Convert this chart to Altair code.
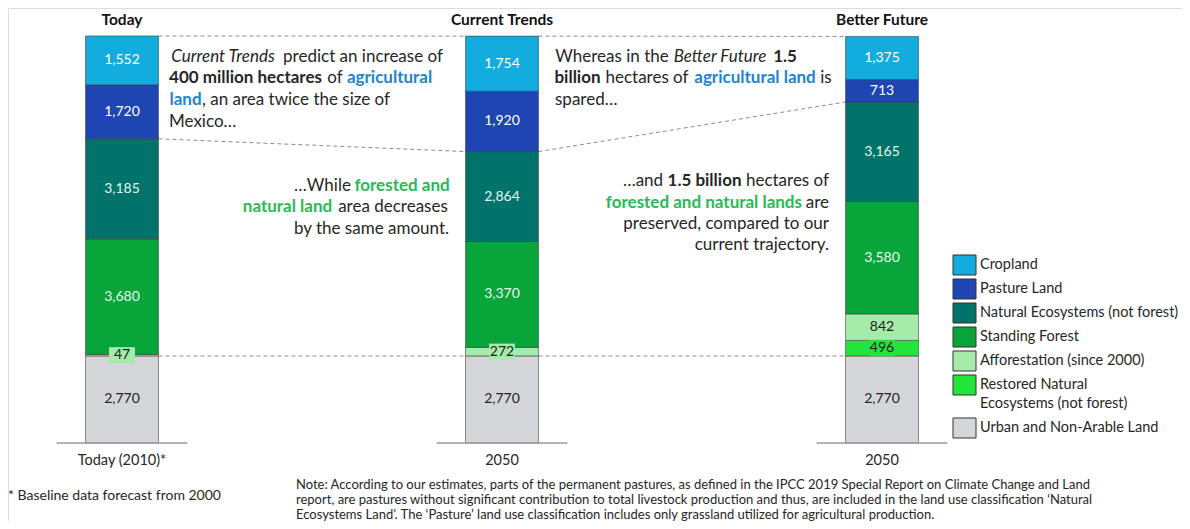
import altair as alt
import pandas as pd

# ---------------- data ----------------
scenarios = ["Today", "Current Trends", "Better Future"]
axis_labels = ["Today (2010)*", "2050", "2050"]
categories = [
    "Cropland",
    "Pasture Land",
    "Natural Ecosystems (not forest)",
    "Standing Forest",
    "Afforestation (since 2000)",
    "Restored Natural Ecosystems (not forest)",
    "Urban and Non-Arable Land",
]
legend_lines = [
    ["Cropland"],
    ["Pasture Land"],
    ["Natural Ecosystems (not forest)"],
    ["Standing Forest"],
    ["Afforestation (since 2000)"],
    ["Restored Natural", "Ecosystems (not forest)"],
    ["Urban and Non-Arable Land"],
]
cropland = [1552, 1754, 1375]
pasture = [1720, 1920, 713]
natural = [3185, 2864, 3165]
forest = [3680, 3370, 3580]
afforestation = [47, 272, 842]
restored = [0, 0, 496]
urban = [2770, 2770, 2770]

# ---------------- styles ----------------
colors = ["#12ACDF", "#1F45B3", "#02736A", "#07A53A", "#A6EBAA", "#22E53C", "#D5D6D9"]
label_colors = ["white", "white", "#E8F4F2", "#E8F8EC", "#222222", "#222222", "#222222"]
FONT = "Lato"
TXT = "#262626"
BLUE = "#1B84D2"
GREEN = "#27BA55"
W, H = 1174, 513
hw = 0.096      # half bar width (x units)
hb = 0.172      # half baseline width (x units)

series = [cropland, pasture, natural, forest, afforestation, restored, urban]
stack_order = [6, 5, 4, 3, 2, 1, 0]  # bottom -> top

rows = []
for i, s in enumerate(scenarios):
    base = 0
    for ci in stack_order:
        v = series[ci][i]
        if v <= 0:
            continue
        rows.append(dict(scenario=s, pos=i, category=categories[ci], value=v,
                         y0=base, y1=base + v, mid=base + v / 2,
                         x0=i - hw, x1=i + hw, tcolor=label_colors[ci],
                         fill=colors[ci]))
        base += v
bars = pd.DataFrame(rows)
boxes = bars[bars["value"] < 600]

totals = [sum(series[c][i] for c in range(7)) for i in range(3)]
agri = [totals[i] - cropland[i] - pasture[i] for i in range(3)]
bounds = [totals, agri, urban]
conn = []
for b in bounds:
    for i in range(2):
        conn.append(dict(x=i + hw, y=b[i], x2=i + 1 - hw, y2=b[i + 1]))
conn = pd.DataFrame(conn)

heads = pd.DataFrame(dict(pos=[0, 1, 2], scenario=scenarios, axlab=axis_labels,
                          xa=[p - hb for p in range(3)], xb=[p + hb for p in range(3)],
                          zero=[0, 0, 0]))

xs = alt.Scale(domain=[-0.3, -0.3 + W / 380.0], nice=False, zero=False)
ys = alt.Scale(domain=[-2483, 13845], nice=False, zero=False)


def X(f):
    return alt.X(f, type="quantitative", scale=xs, axis=None)


def Y(f):
    return alt.Y(f, type="quantitative", scale=ys, axis=None)


connectors = alt.Chart(conn).mark_rule(color="#8a8a8a", strokeDash=[4, 3], strokeWidth=1).encode(
    x=X("x"), y=Y("y"), x2="x2", y2="y2")

bar_layer = alt.Chart(bars).mark_bar(stroke="#3a3a3a", strokeWidth=0.7, strokeOpacity=0.8, opacity=1).encode(
    x=X("x0"), x2="x1", y=Y("y0"), y2="y1",
    fill=alt.Fill("fill:N", scale=None))

box_layer = alt.Chart(boxes).mark_point(shape="M-1,-0.62H1V0.62H-1Z", filled=True, opacity=1,
                                        size=676, strokeWidth=0).encode(
    x=X("pos"), y=Y("mid"), fill=alt.Fill("fill:N", scale=None))

label_layer = alt.Chart(bars).mark_text(font=FONT, fontSize=14, baseline="middle").encode(
    x=X("pos"), y=Y("mid"), text=alt.Text("value:Q", format=","),
    color=alt.Color("tcolor:N", scale=None))

base_rules = alt.Chart(heads).mark_rule(color="#9a9a9a", strokeWidth=1.3).encode(
    x=X("xa"), x2="xb", y=Y("zero"))

titles = alt.Chart(heads).mark_text(font=FONT, fontSize=15.5, fontWeight="bold", color="#111111",
                                    baseline="alphabetic").encode(
    x=X("pos"), y=alt.value(17), text="scenario:N")

axlabs = alt.Chart(heads).mark_text(font=FONT, fontSize=14.5, color=TXT, baseline="alphabetic").encode(
    x=X("pos"), y=alt.value(457), text="axlab:N")

# ---------------- custom legend (layout in pixels) ----------------
LX, LY0, LSTEP, LLINE = 956.5, 257, 24, 19
sym_rows, lab_rows = [], []
yy = LY0
for ci, lines in enumerate(legend_lines):
    sym_rows.append(dict(px=LX, py=yy, fill=colors[ci], cat=categories[ci]))
    for k, ln in enumerate(lines):
        lab_rows.append(dict(px=972, py=yy + k * LLINE, text=ln))
    yy += LSTEP + (len(lines) - 1) * LLINE
sym_df = pd.DataFrame(sym_rows)
lab_df = pd.DataFrame(lab_rows)

legend_syms = alt.Chart(sym_df).mark_point(shape="M-1,-0.87H1V0.87H-1Z", filled=True, opacity=1,
                                           size=529, stroke="#333333", strokeWidth=1).encode(
    x=alt.X("px:Q", scale=None), y=alt.Y("py:Q", scale=None), fill=alt.Fill("fill:N", scale=None))
legend_labs = alt.Chart(lab_df).mark_text(font=FONT, fontSize=14.5, align="left", baseline="middle",
                                          color=TXT).encode(
    x=alt.X("px:Q", scale=None), y=alt.Y("py:Q", scale=None), text="text:N")

# ------------- annotation fragments (text, x px, y px, align, weight, style, color) -------------
frags = [
    # block 1
    ("Current Trends", 215, 53.7, "center", "normal", "italic", TXT),
    ("predict an increase of", 355, 53.7, "center", "normal", "normal", TXT),
    ("400 million hectares", 237.5, 75.3, "center", "bold", "normal", TXT),
    ("of", 327, 75.3, "center", "normal", "normal", TXT),
    ("agricultural", 381.5, 75.3, "center", "bold", "normal", BLUE),
    ("land", 177.5, 97, "center", "bold", "normal", BLUE),
    (", an area twice the size of", 288, 97, "center", "normal", "normal", TXT),
    ("Mexico…", 161, 118.7, "left", "normal", "normal", TXT),
    # block 2
    ("…While", 314.5, 182.5, "center", "normal", "normal", TXT),
    ("forested and", 394, 182.5, "center", "bold", "normal", GREEN),
    ("natural land", 279.5, 204.2, "center", "bold", "normal", GREEN),
    ("area decreases", 385, 204.2, "center", "normal", "normal", TXT),
    ("by the same amount.", 441, 225.9, "right", "normal", "normal", TXT),
    # block 3
    ("Whereas in the", 604, 53.7, "center", "normal", "normal", TXT),
    ("Better Future", 712, 53.7, "center", "normal", "italic", TXT),
    ("1.5", 777, 53.7, "center", "bold", "normal", TXT),
    ("billion", 569.5, 75.3, "center", "bold", "normal", TXT),
    ("hectares of", 639, 75.3, "center", "normal", "normal", TXT),
    ("agricultural land", 747, 75.3, "center", "bold", "normal", BLUE),
    ("is", 818, 75.3, "center", "normal", "normal", TXT),
    ("spared…", 547, 97, "left", "normal", "normal", TXT),
    # block 4
    ("…and", 635, 177.7, "center", "normal", "normal", TXT),
    ("1.5 billion", 696.5, 177.7, "center", "bold", "normal", TXT),
    ("hectares of", 821, 177.7, "right", "normal", "normal", TXT),
    ("forested and natural lands", 794, 199.7, "right", "bold", "normal", GREEN),
    ("are", 821, 199.7, "right", "normal", "normal", TXT),
    ("preserved, compared to our", 821, 221, "right", "normal", "normal", TXT),
    ("current trajectory.", 821, 242, "right", "normal", "normal", TXT),
]
fdf = pd.DataFrame(frags, columns=["text", "px", "py", "align", "weight", "style", "color"])

ann_layers = []
for (al, wt, st), g in fdf.groupby(["align", "weight", "style"]):
    ann_layers.append(
        alt.Chart(g).mark_text(font=FONT, fontSize=17, align=al, fontWeight=wt, fontStyle=st,
                               baseline="alphabetic").encode(
            x=alt.X("px:Q", scale=None), y=alt.Y("py:Q", scale=None), text="text:N",
            color=alt.Color("color:N", scale=None)))

foot = pd.DataFrame(dict(
    text=["Note: According to our estimates, parts of the permanent pastures, as defined in the IPCC 2019 Special Report on Climate Change and Land",
          "report, are pastures without significant contribution to total livestock production and thus, are included in the land use classification \u2018Natural",
          "Ecosystems Land\u2019. The \u2018Pasture\u2019 land use classification includes only grassland utilized for agricultural production."],
    px=[288, 288, 288], py=[480.5, 495.5, 510.5]))
note_layer = alt.Chart(foot).mark_text(font=FONT, fontSize=13, align="left", baseline="alphabetic",
                                       color=TXT).encode(
    x=alt.X("px:Q", scale=None), y=alt.Y("py:Q", scale=None), text="text:N")

star = alt.Chart(pd.DataFrame(dict(t=["* Baseline data forecast from 2000"]))).mark_text(
    font=FONT, fontSize=14, align="left", baseline="alphabetic", color=TXT).encode(
    x=alt.value(0), y=alt.value(492), text="t:N")

chart = alt.layer(connectors, bar_layer, base_rules, box_layer, label_layer, titles, axlabs,
                  legend_syms, legend_labs, *ann_layers, note_layer, star).properties(
    width=W, height=H, autosize=alt.AutoSizeParams(type="none"), padding=0
).configure_view(stroke=None).configure(background="white")

chart.save("out.html", embed_options={"renderer": "svg", "actions": False})
